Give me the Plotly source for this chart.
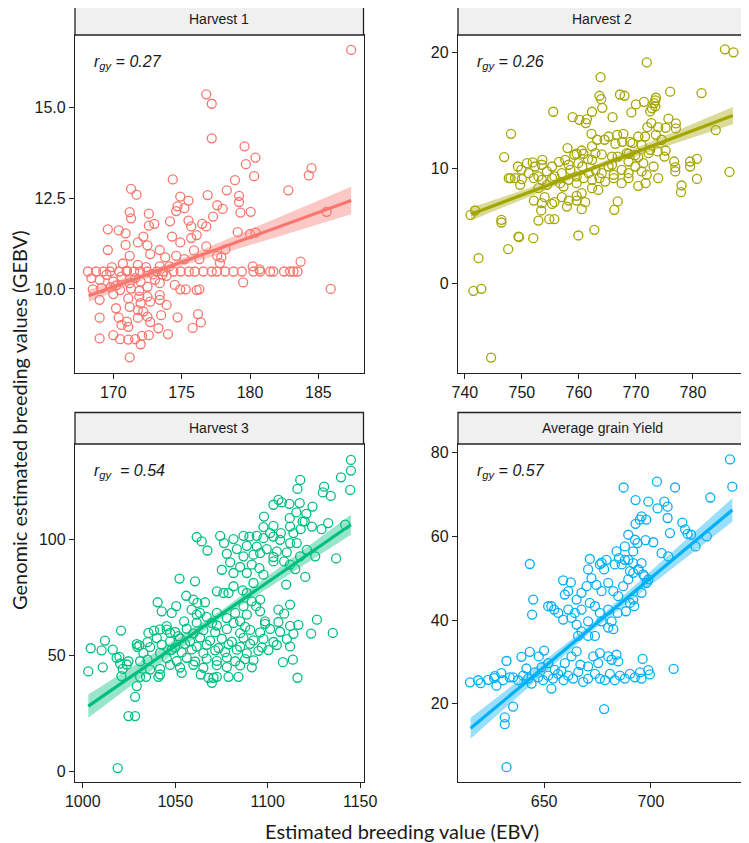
import plotly.graph_objects as go

# ---- data (EBV, GEBV) ----
h1_pts = [
    (187.4, 16.57), (176.8, 15.35), (177.2, 15.09), (177.2, 14.14), (179.6, 13.92), (180.4, 13.61),
    (179.7, 13.43), (180.3, 13.10), (184.5, 13.32), (184.3, 13.12), (174.35, 13.01), (178.9, 12.99),
    (171.3, 12.75), (178.3, 12.71), (182.8, 12.71), (171.7, 12.59), (174.9, 12.54), (175.5, 12.43),
    (176.9, 12.58), (179.2, 12.56), (179.2, 12.39), (171.2, 12.11), (171.3, 11.94), (172.6, 12.07),
    (174.6, 12.14), (174.7, 12.27), (175.2, 12.22), (177.6, 12.30), (178.0, 12.20), (179.3, 12.10),
    (180.05, 12.12), (185.6, 12.12), (169.6, 11.64), (170.4, 11.61), (170.9, 11.53), (173.0, 11.79),
    (172.6, 11.74), (174.15, 11.86), (175.5, 11.88), (175.7, 11.72), (176.5, 11.79), (176.8, 11.72),
    (177.3, 11.99), (179.1, 11.56), (180.0, 11.51), (180.4, 11.55), (169.6, 11.07), (170.9, 11.21),
    (171.8, 11.28), (172.5, 11.20), (172.2, 11.44), (174.3, 11.44), (174.9, 11.28), (175.7, 11.40),
    (176.1, 11.48), (176.8, 11.17), (178.2, 11.09), (171.2, 10.91), (173.4, 11.07), (172.7, 10.96),
    (173.8, 10.87), (174.6, 10.91), (175.2, 10.82), (175.9, 11.06), (176.3, 10.82), (177.6, 10.91),
    (177.9, 10.87), (177.8, 10.71),
    (168.15, 10.48), (168.74, 10.48), (169.27, 10.48), (169.76, 10.48), (170.44, 10.48), (170.98, 10.48),
    (171.52, 10.48), (171.96, 10.48), (172.49, 10.48), (173.18, 10.48), (173.66, 10.48), (174.4, 10.48),
    (174.93, 10.48), (175.52, 10.48), (175.96, 10.48), (176.59, 10.48), (177.2, 10.48), (177.57, 10.48),
    (178.18, 10.48), (178.79, 10.48), (179.4, 10.48), (180.25, 10.48), (180.74, 10.48), (181.47, 10.48),
    (181.71, 10.48), (182.49, 10.48), (182.93, 10.48), (183.18, 10.48), (183.47, 10.48),
    (180.2, 10.62), (180.7, 10.54), (183.7, 10.75), (179.5, 10.18),
    (169.0, 10.25), (169.5, 10.39), (170.0, 10.20), (170.6, 10.34), (171.2, 10.16), (168.5, 9.99),
    (169.15, 10.02), (169.8, 10.05), (170.5, 9.97), (171.3, 10.01), (171.9, 9.95), (172.5, 10.06),
    (173.05, 10.25), (173.4, 10.16), (173.9, 10.36), (174.5, 10.11), (174.9, 9.99), (175.3, 9.99),
    (176.1, 9.97), (176.3, 9.99), (171.8, 10.66), (172.4, 10.6), (173.4, 10.62), (174.1, 10.62),
    (185.9, 10.0), (168.4, 10.3), (169.9, 10.6), (170.7, 10.7), (171.6, 10.3), (172.9, 10.4),
    (170.2, 10.1), (171.0, 10.5), (172.0, 10.2), (173.6, 10.4),
    (169.0, 9.70), (170.0, 9.86), (171.1, 9.74), (171.9, 9.79), (172.5, 9.79), (172.7, 9.65),
    (171.2, 9.51), (172.0, 9.61), (173.4, 9.70), (173.9, 9.56), (173.4, 9.83), (170.2, 9.47),
    (171.8, 9.42), (172.2, 9.38), (169.0, 9.21), (170.4, 9.21), (171.0, 9.10), (171.8, 9.21),
    (172.5, 9.24), (173.5, 9.28), (174.7, 9.22), (176.2, 9.31), (176.4, 9.08), (175.8, 8.93),
    (170.6, 9.01), (171.1, 8.96), (172.7, 9.09), (173.3, 8.92), (169.0, 8.64), (170.0, 8.73),
    (170.5, 8.62), (171.1, 8.61), (171.6, 8.62), (172.1, 8.71), (172.6, 8.73), (172.0, 8.48),
    (174.0, 8.76), (171.2, 8.12),
]

h2_pts = [
    (771.9, 19.13), (763.8, 17.86), (767.2, 16.36), (768.0, 16.25), (763.6, 16.25), (763.9, 15.96),
    (776.0, 16.6), (781.5, 16.48), (755.5, 14.87), (764.1, 15.21), (770.0, 15.5), (771.4, 15.73),
    (773.4, 15.85), (773.4, 15.33), (772.5, 14.9), (769.2, 14.81), (765.9, 14.4), (758.9, 14.4),
    (760.1, 14.17), (761.4, 14.23), (761.2, 13.89), (762.3, 14.87), (748.1, 12.96), (772.7, 13.89),
    (772.0, 13.54), (773.9, 13.54), (775.2, 13.48), (777.0, 13.43), (774.5, 12.45), (762.2, 12.96),
    (763.2, 12.45), (765.2, 12.73), (766.7, 12.88), (767.8, 12.96), (769.0, 12.27), (770.4, 12.73),
    (771.6, 12.73), (773.5, 12.88),
    (764.5, 12.45), (766.4, 12.1), (767.6, 12.27), (769.4, 12.16), (771.0, 11.99), (772.5, 11.58),
    (773.8, 11.44), (775.2, 11.52), (758.0, 11.73), (760.5, 11.52), (762.3, 11.87), (759.2, 11.15),
    (762.9, 11.29), (765.8, 11.0), (768.7, 11.24), (770.4, 10.95), (746.9, 10.95),
    (751.9, 10.49), (753.6, 10.72), (755.3, 10.14), (756.5, 10.54), (758.2, 10.29), (759.6, 11.24),
    (760.8, 11.24), (761.6, 10.78), (764.0, 11.18), (766.8, 11.0), (768.4, 11.29), (769.9, 11.12),
    (772.2, 11.29), (775.0, 11.0), (776.9, 10.08), (779.5, 10.14),
    (747.7, 9.13), (748.8, 9.13), (749.9, 9.85), (751.2, 9.56), (752.3, 10.14), (752.9, 9.28),
    (754.4, 9.71), (755.7, 9.28), (757.0, 9.56), (758.5, 9.85), (759.6, 9.28), (760.6, 10.14),
    (761.7, 9.56), (762.9, 9.85), (764.0, 9.56), (765.2, 10.14), (766.1, 9.42), (767.5, 9.85),
    (768.7, 9.56), (769.9, 10.14), (771.0, 9.71), (771.9, 9.42), (749.3, 10.14), (750.9, 10.43),
    (753.5, 10.29), (757.6, 10.72), (759.9, 10.43), (762.3, 10.72), (765.8, 10.29), (768.7, 10.57),
    (771.3, 10.43), (773.1, 10.14),
    (748.0, 9.13), (750.0, 9.05), (752.1, 9.13), (753.5, 8.99), (755.3, 9.13), (756.7, 8.7),
    (758.2, 8.99), (759.6, 8.7), (760.8, 9.13), (762.3, 8.99), (763.6, 9.13), (764.6, 8.84),
    (766.1, 9.13), (767.5, 8.7), (768.7, 9.13), (770.4, 8.47), (771.7, 8.7), (773.9, 9.13),
    (776.9, 9.71), (749.7, 8.56), (752.9, 8.27), (754.4, 8.56), (757.3, 8.41), (762.3, 8.27),
    (763.4, 8.12), (780.7, 9.07),
    (752.1, 7.2), (754.0, 7.49), (755.7, 7.06), (757.0, 7.49), (758.2, 7.2), (759.6, 7.2),
    (761.1, 7.06), (759.6, 7.61), (757.9, 6.68), (760.5, 7.84), (753.4, 6.34), (755.3, 6.91),
    (753.5, 6.97), (760.5, 6.45), (766.2, 6.4), (766.8, 7.12), (777.9, 7.92), (752.9, 5.47),
    (754.8, 5.59), (755.7, 5.59), (741.0, 5.96), (741.8, 6.34), (746.4, 5.53), (746.4, 5.3),
    (742.4, 2.22), (741.5, -0.6), (742.9, -0.43), (744.6, -6.37), (747.6, 3.0), (749.4, 4.09),
    (749.5, 4.03), (752.0, 3.95), (759.9, 4.18), (762.7, 4.67),
    (785.6, 20.26), (787.1, 20.0), (784.0, 13.28), (786.4, 9.67), (780.7, 10.8), (779.5, 10.57),
    (778.0, 8.5), (776.7, 10.57), (777.0, 13.86), (775.7, 14.27), (773.5, 16.08), (773.2, 15.62),
    (772.8, 15.17),
]

h3_pts = [
    (1145.0, 134.1), (1145.0, 129.5), (1139.6, 126.6), (1144.6, 121.2), (1117.6, 125.5), (1116.1, 121.6),
    (1130.5, 122.6), (1129.8, 120.1), (1134.1, 118.6), (1141.9, 106.2), (1137.0, 91.7), (1105.8, 116.9),
    (1107.6, 115.8), (1103.1, 114.8), (1111.7, 115.2), (1117.3, 115.5), (1124.2, 114.0), (1120.9, 110.9),
    (1120.0, 107.6), (1115.5, 111.5), (1111.9, 109.0), (1098.0, 109.7), (1103.1, 105.7), (1097.7, 105.2),
    (1101.3, 102.6), (1107.1, 102.6), (1112.1, 105.4), (1113.9, 102.6), (1118.9, 107.6), (1117.8, 104.3),
    (1123.9, 105.4), (1129.1, 104.3), (1132.7, 106.9), (1061.6, 100.9), (1064.3, 99.0), (1067.4, 95.1),
    (1074.3, 101.4), (1076.4, 98.3), (1081.5, 100.0), (1086.9, 101.4), (1090.1, 101.1), (1094.1, 101.4),
    (1097.7, 100.4), (1103.1, 101.1), (1106.7, 99.7), (1112.1, 98.3), (1115.7, 98.3), (1121.2, 95.4),
    (1125.7, 92.6), (1117.5, 92.6), (1110.3, 94.3), (1104.9, 94.7), (1099.5, 95.7), (1094.1, 96.8),
    (1088.7, 97.1), (1083.3, 95.7), (1077.9, 93.7), (1086.9, 92.6), (1092.3, 93.3), (1095.9, 94.0),
    (1103.1, 92.3),
    (1075.2, 86.8), (1079.7, 90.0), (1081.5, 85.4), (1085.1, 88.0), (1088.7, 85.4), (1091.4, 89.0),
    (1095.5, 87.5), (1097.7, 84.7), (1103.1, 90.4), (1108.9, 90.4), (1112.1, 89.0), (1114.9, 87.1),
    (1120.3, 83.7), (1052.3, 83.0), (1060.7, 81.8),
    (1018.9, 1.4), (1024.7, 23.8), (1028.3, 23.8), (1028.3, 32.1), (1029.2, 36.7), (1003.0, 43.0),
    (1004.3, 53.0), (1010.8, 44.8), (1010.2, 52.1), (1012.0, 56.3), (1016.2, 52.4), (1020.7, 60.6),
    (1018.3, 48.9), (1019.8, 49.3), (1020.2, 46.4), (1021.6, 44.1), (1023.8, 46.0), (1020.9, 41.0),
    (1024.7, 47.4), (1031.0, 47.4), (1035.0, 48.1), (1034.2, 40.7), (1031.0, 40.7), (1040.9, 40.7),
    (1041.8, 41.7), (1029.5, 53.6), (1030.6, 54.2), (1035.0, 55.6), (1032.8, 51.0), (1038.5, 60.6),
    (1040.5, 72.8), (1042.7, 68.9), (1048.1, 68.2), (1055.9, 75.6), (1059.8, 73.9), (1062.0, 72.5),
    (1066.1, 72.8), (1054.8, 64.6), (1045.4, 61.0), (1047.2, 59.6), (1051.7, 58.2), (1050.5, 71.1),
    (1063.4, 68.2), (1067.0, 66.5), (1072.5, 77.5), (1076.1, 76.8), (1078.8, 76.8), (1086.5, 77.9),
    (1081.5, 79.7), (1088.7, 76.8), (1095.9, 73.9), (1092.3, 81.1), (1110.0, 80.4), (1112.1, 71.8),
    (1105.8, 69.6), (1108.9, 67.9), (1095.9, 68.9), (1093.7, 71.1), (1091.4, 73.2), (1126.6, 65.3),
    (1123.5, 59.3), (1135.2, 59.6), (1108.2, 47.0), (1113.6, 48.1), (1116.1, 40.3), (1063.8, 41.7),
    (1067.9, 40.3), (1070.7, 40.3), (1072.5, 40.7), (1069.8, 38.1), (1078.8, 40.7), (1084.2, 40.7),
    (1053.5, 42.4), (1036.4, 43.8), (1041.8, 44.1),
    (1058.9, 69.6), (1061.6, 67.5), (1072.5, 68.2), (1077.9, 66.0), (1082.4, 68.2), (1086.9, 71.1),
    (1085.1, 64.6), (1088.7, 67.5), (1098.6, 64.6), (1069.8, 63.9),
    (1045.4, 62.5), (1061.6, 64.0), (1072.5, 62.8), (1081.5, 63.9), (1087.8, 62.2), (1098.6, 63.5),
    (1105.8, 64.3), (1112.1, 62.6), (1116.6, 63.1),
    (1035.5, 59.6), (1041.8, 61.1), (1049.9, 60.0), (1056.2, 61.4), (1059.8, 59.4), (1065.2, 60.8),
    (1071.6, 59.9), (1077.9, 61.2), (1085.1, 59.5), (1090.5, 60.9), (1095.9, 59.8), (1101.3, 61.3),
    (1106.7, 60.1), (1113.9, 59.2),
    (1040.0, 57.4), (1047.2, 56.0), (1052.6, 57.2), (1058.0, 55.9), (1063.4, 57.6), (1068.8, 56.3),
    (1075.2, 57.1), (1080.6, 55.8), (1086.9, 57.5), (1092.3, 56.4), (1097.7, 57.0), (1103.1, 55.7),
    (1110.3, 56.9),
    (1029.2, 54.8), (1036.4, 53.5), (1042.7, 54.6), (1049.9, 53.3), (1055.3, 54.9), (1061.6, 53.7),
    (1067.0, 54.5), (1073.4, 53.1), (1078.8, 54.7), (1085.1, 53.6), (1090.5, 54.9), (1096.8, 53.4),
    (1104.9, 54.4), (1112.1, 53.8),
    (1041.8, 51.0), (1048.1, 52.3), (1053.5, 51.2), (1058.9, 52.5), (1065.2, 50.9), (1071.6, 52.1),
    (1077.0, 51.3), (1083.3, 52.4), (1088.7, 50.8), (1095.0, 51.9), (1100.4, 52.2),
    (1045.4, 48.7), (1050.8, 47.5), (1056.2, 48.9), (1060.7, 47.3), (1067.0, 48.5), (1072.5, 47.6),
    (1077.9, 49.0), (1082.4, 47.4), (1087.8, 48.3), (1092.3, 47.8),
    (1047.2, 45.8), (1052.6, 44.7), (1059.8, 45.9), (1065.2, 44.6), (1072.5, 45.7), (1077.9, 44.9),
    (1085.1, 45.6), (1091.4, 44.8),
]

avg_pts = [
    (737.0, 78.4), (738.1, 71.9), (727.8, 69.3), (702.8, 73.1), (711.3, 71.7), (687.2, 71.7),
    (692.8, 68.7), (698.8, 68.3), (706.3, 68.3), (707.8, 67.1), (707.8, 64.4), (708.9, 60.8),
    (703.1, 66.7), (695.6, 64.8), (694.8, 64.0), (697.8, 64.0), (714.7, 63.3), (716.0, 61.7),
    (717.2, 60.6), (718.8, 60.4), (720.9, 57.6), (726.1, 60.0), (692.8, 63.0), (689.4, 60.4),
    (692.5, 59.2), (697.5, 59.1), (701.1, 58.6), (705.0, 56.0), (708.1, 55.2), (643.3, 53.4),
    (671.4, 54.6), (676.1, 53.3), (679.2, 54.4), (678.1, 52.1), (683.9, 56.4), (685.0, 54.8),
    (686.3, 53.3), (689.4, 54.4), (691.7, 53.6), (694.1, 52.1), (695.6, 53.6), (687.8, 57.6),
    (690.2, 51.7), (696.9, 50.5), (691.7, 56.4), (693.7, 58.4),
    (632.4, 4.8), (631.6, 16.7), (631.6, 15.1), (635.5, 19.3), (678.1, 18.7), (710.6, 28.3),
    (696.1, 30.7), (699.5, 27.0), (644.9, 44.9), (644.4, 41.3), (651.9, 43.3), (654.7, 42.5),
    (658.9, 49.5), (662.5, 49.0),
    (615.3, 25.1), (620.3, 24.9), (623.8, 25.7), (626.6, 26.1), (627.7, 24.3), (630.0, 27.3),
    (633.9, 26.3), (632.4, 30.2), (639.4, 31.2), (643.3, 32.4), (647.5, 31.3), (650.0, 32.7),
    (645.6, 27.5), (647.2, 26.3), (635.5, 26.3), (637.8, 25.6), (640.2, 26.7), (642.5, 26.0),
    (644.1, 24.8), (649.5, 25.6), (651.9, 26.7), (654.2, 26.0), (656.6, 27.1), (659.1, 25.6),
    (661.3, 26.7), (663.6, 26.0), (666.0, 27.6), (668.3, 25.2), (670.6, 26.0), (673.8, 27.1),
    (676.1, 26.0), (678.5, 25.6), (680.8, 27.1), (683.1, 25.6), (685.5, 26.7), (687.8, 26.0),
    (690.2, 27.1), (692.5, 26.3), (694.9, 27.5), (653.4, 23.6), (658.1, 27.8), (659.7, 29.7),
    (662.8, 31.3), (665.2, 32.5), (670.6, 28.9), (676.1, 32.1), (680.0, 31.3), (681.6, 30.5),
    (683.9, 31.7), (684.7, 30.1), (675.3, 29.7), (673.0, 31.3), (667.0, 29.3), (651.9, 29.7),
    (655.0, 28.1), (695.6, 26.0), (698.8, 28.0), (641.7, 28.4), (648.8, 28.7), (626.9, 26.6),
    (619.1, 25.6), (630.8, 25.6),
    (661.3, 46.9), (659.7, 46.1), (665.2, 44.9), (667.5, 46.5), (669.9, 48.1), (672.2, 50.0),
    (674.5, 48.4), (676.9, 46.9), (680.0, 48.9), (682.4, 46.9), (684.7, 45.7), (687.0, 48.1),
    (689.4, 49.7), (691.7, 51.3), (694.1, 52.1), (696.4, 50.9), (698.8, 49.7), (690.2, 44.1),
    (692.2, 43.3), (688.3, 42.1), (684.4, 41.7), (680.0, 42.5), (676.1, 41.7), (673.8, 43.3),
    (671.4, 44.1), (667.5, 42.5), (664.4, 41.7), (661.3, 42.5), (662.8, 40.5), (665.2, 38.9),
    (667.5, 37.3), (670.6, 39.7), (673.8, 36.2), (680.0, 38.2), (682.4, 37.8), (681.6, 39.7),
    (676.9, 39.7), (670.6, 36.2), (665.9, 36.2), (653.4, 43.3), (656.6, 41.7), (658.9, 40.1),
    (691.7, 44.9), (695.6, 46.5), (698.0, 48.9), (670.6, 52.1), (676.9, 53.7), (683.1, 53.3),
    (687.8, 54.4),
]

# fitted line ends and confidence band (left, middle, right)
h1_fit_x, h1_fit_y = [168.2, 187.4], [9.81, 12.43]
h1_band_x, h1_band_lo, h1_band_hi = [168.2, 174.0, 187.4], [9.64, 10.52, 12.05], [9.98, 10.68, 12.81]
h2_fit_x, h2_fit_y = [741.1, 787.0], [6.02, 14.54]
h2_band_x, h2_band_lo, h2_band_hi = [741.1, 762.0, 787.0], [5.47, 9.7, 13.79], [6.57, 10.1, 15.29]
h3_fit_x, h3_fit_y = [1003.0, 1145.0], [28.1, 106.2]
h3_band_x, h3_band_lo, h3_band_hi = [1003.0, 1075.0, 1145.0], [23.1, 66.0, 101.9], [33.1, 69.4, 110.5]
avg_fit_x, avg_fit_y = [615.6, 738.1], [14.1, 66.3]
avg_band_x, avg_band_lo, avg_band_hi = [615.6, 672.0, 738.1], [11.6, 37.2, 63.5], [16.6, 39.0, 69.1]

titles = ["Harvest 1", "Harvest 2", "Harvest 3", "Average grain Yield"]
r_labels = ["<i>r<sub>gy</sub> = 0.27</i>", "<i>r<sub>gy</sub> = 0.26</i>",
            "<i>r<sub>gy</sub>  = 0.54</i>", "<i>r<sub>gy</sub> = 0.57</i>"]
colors = ["#F8766D", "#A3A500", "#00BF7D", "#00B0F6"]
fills = ["rgba(248,118,109,0.4)", "rgba(163,165,0,0.4)", "rgba(0,191,125,0.4)", "rgba(0,176,246,0.4)"]

W, H = 749, 843
OFF = 8  # page body margin
cols = [(75, 363.5), (458, 746)]
rows = [(35, 373), (444, 782)]  # plot area top/bottom in screen px
strip_h = 31.5


def px(v):
    return (v - OFF) / W


def py(v):
    return 1 - (v - OFF) / H


panels = [
    dict(pts=h1_pts, fx=h1_fit_x, fy=h1_fit_y, bx=h1_band_x, blo=h1_band_lo, bhi=h1_band_hi,
         xr=[167.2, 188.3], yr=[7.69, 16.98], xt=[170, 175, 180, 185], yt=[10, 12.5, 15],
         ytext=["10.0", "12.5", "15.0"]),
    dict(pts=h2_pts, fx=h2_fit_x, fy=h2_fit_y, bx=h2_band_x, blo=h2_band_lo, bhi=h2_band_hi,
         xr=[738.8, 789.3], yr=[-7.7, 21.5], xt=[740, 750, 760, 770, 780], yt=[0, 10, 20],
         ytext=["0", "10", "20"]),
    dict(pts=h3_pts, fx=h3_fit_x, fy=h3_fit_y, bx=h3_band_x, blo=h3_band_lo, bhi=h3_band_hi,
         xr=[995.8, 1151.8], yr=[-4.6, 140.96], xt=[1000, 1050, 1100, 1150], yt=[0, 50, 100],
         ytext=["0", "50", "100"]),
    dict(pts=avg_pts, fx=avg_fit_x, fy=avg_fit_y, bx=avg_band_x, blo=avg_band_lo, bhi=avg_band_hi,
         xr=[609.7, 744.5], yr=[1.26, 82.1], xt=[650, 700], yt=[20, 40, 60, 80],
         ytext=["20", "40", "60", "80"]),
]

fig = go.Figure()
shapes = []
annotations = []
tick_font = dict(family="Liberation Sans, Arial", size=16, color="#1a1a1a")

for i, p in enumerate(panels):
    c0, c1 = cols[i % 2]
    r0, r1 = rows[i // 2]
    n = "" if i == 0 else str(i + 1)
    xa, ya = "x" + n, "y" + n
    xs = [q[0] for q in p["pts"]]
    ys = [q[1] for q in p["pts"]]

    fig.add_trace(go.Scatter(
        x=p["bx"] + p["bx"][::-1], y=p["blo"] + p["bhi"][::-1],
        fill="toself", fillcolor=fills[i], line=dict(width=0), mode="lines",
        hoverinfo="skip", xaxis=xa, yaxis=ya))
    fig.add_trace(go.Scatter(
        x=xs, y=ys, mode="markers",
        marker=dict(symbol="circle-open", size=9, color=colors[i], line=dict(width=1.3)),
        xaxis=xa, yaxis=ya))
    fig.add_trace(go.Scatter(
        x=p["fx"], y=p["fy"], mode="lines", line=dict(color=colors[i], width=3.2),
        xaxis=xa, yaxis=ya))

    axis_common = dict(showgrid=False, zeroline=False, showline=True, mirror=True,
                       linecolor="#222", linewidth=1.3, ticks="outside", ticklen=5,
                       tickcolor="#222", tickwidth=1.2, tickfont=tick_font, automargin=False)
    fig.update_layout(**{
        ("xaxis" + n): dict(domain=[px(c0), px(c1)], range=p["xr"], tickvals=p["xt"],
                            anchor=ya, **axis_common),
        ("yaxis" + n): dict(domain=[py(r1), py(r0)], range=p["yr"], tickvals=p["yt"],
                            ticktext=p["ytext"], anchor=xa, **axis_common),
    })

    shapes.append(dict(type="rect", xref="paper", yref="paper",
                       x0=px(c0), x1=px(c1), y0=py(r0), y1=py(r0 - strip_h),
                       fillcolor="#F0F0F0", line=dict(color="#222", width=1.3)))
    annotations.append(dict(x=px((c0 + c1) / 2), y=py(r0 - strip_h / 2), xref="paper",
                            yref="paper", xanchor="center", yanchor="middle",
                            text=titles[i], showarrow=False,
                            font=dict(family="Liberation Sans, Arial", size=14, color="#1a1a1a")))
    annotations.append(dict(x=px(c0 + 17), y=py(r0 + 27), xref="paper", yref="paper",
                            xanchor="left", yanchor="middle", text=r_labels[i], showarrow=False,
                            font=dict(family="Liberation Sans, Arial", size=16, color="#1a1a1a")))

annotations.append(dict(x=px(402), y=py(831), xref="paper", yref="paper",
                        xanchor="center", yanchor="middle",
                        text="Estimated breeding value (EBV)", showarrow=False,
                        font=dict(family="Lato", size=20, color="#1a1a1a")))
annotations.append(dict(x=px(19), y=py(420), xref="paper", yref="paper", textangle=-90,
                        xanchor="center", yanchor="middle", borderpad=0,
                        text="Genomic estimated breeding values (GEBV)", showarrow=False,
                        font=dict(family="Lato", size=20, color="#1a1a1a")))

fig.update_layout(
    template="none",
    width=W, height=H, margin=dict(l=0, r=0, t=0, b=0, pad=0),
    plot_bgcolor="white", paper_bgcolor="white", showlegend=False,
    shapes=shapes, annotations=annotations,
)

fig.write_html("out.html")
